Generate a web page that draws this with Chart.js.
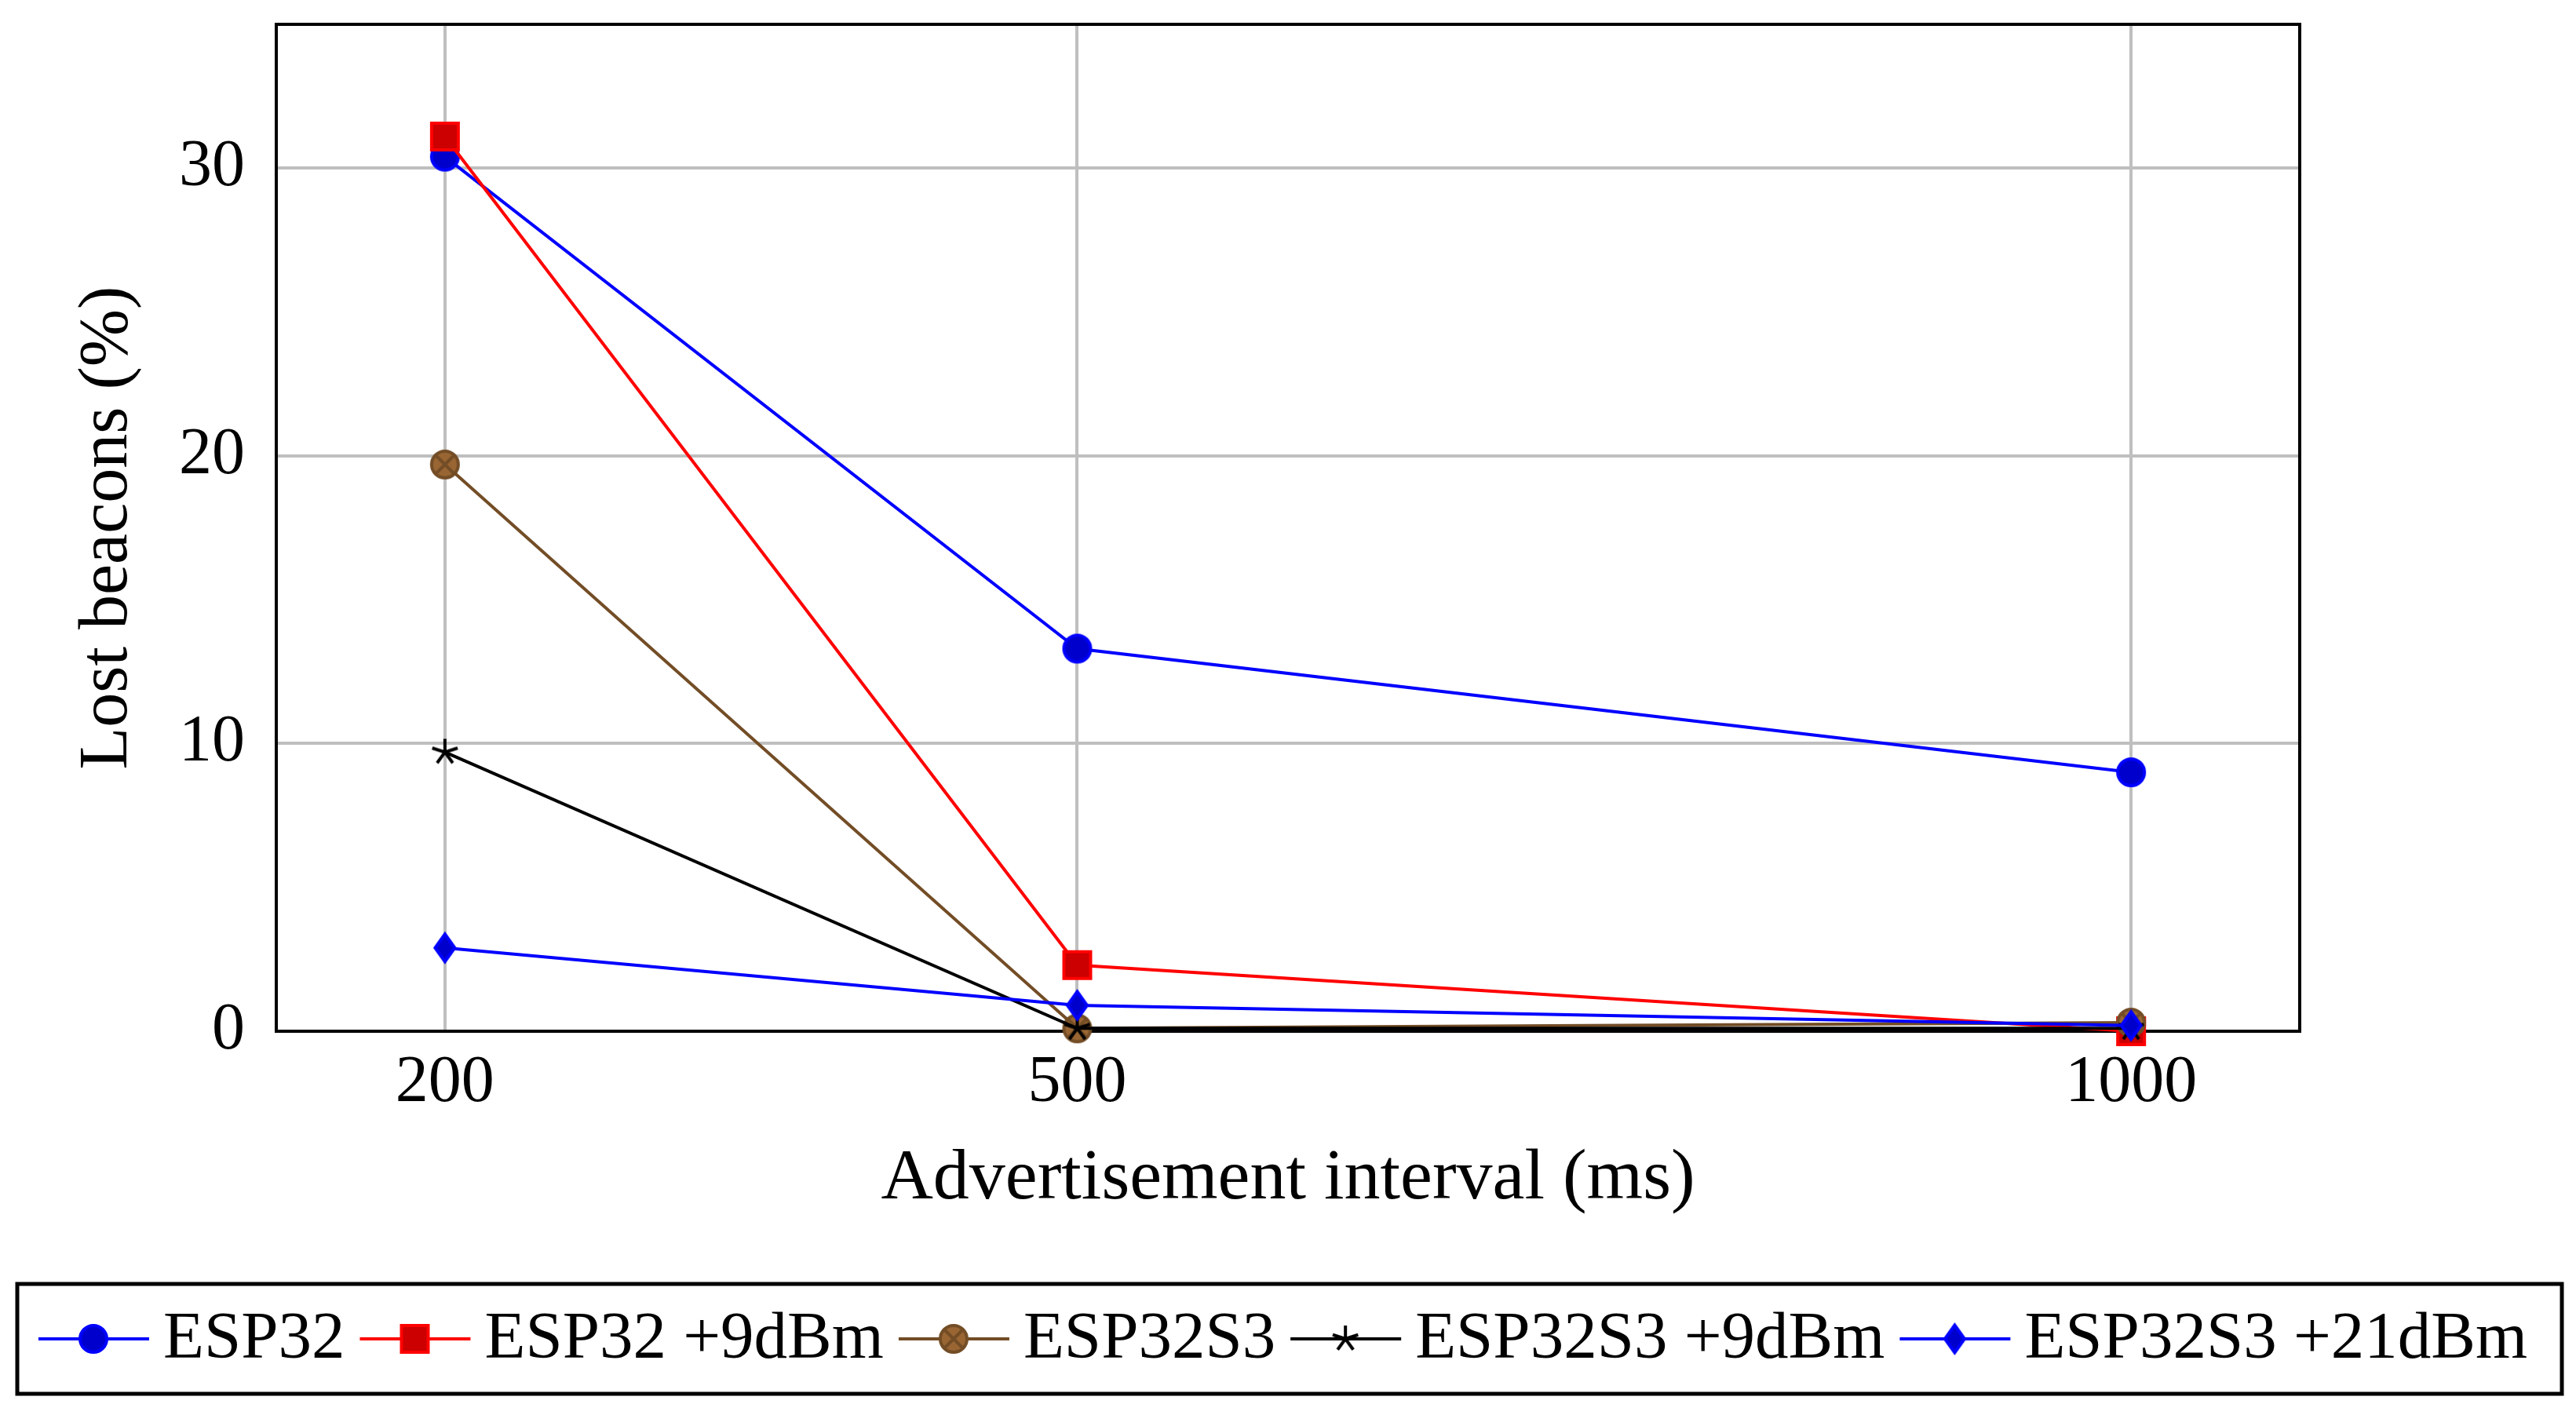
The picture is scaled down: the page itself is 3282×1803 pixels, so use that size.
<!DOCTYPE html>
<html>
<head>
<meta charset="utf-8">
<script src="https://cdn.jsdelivr.net/npm/chart.js@4.4.1/dist/chart.umd.min.js"></script>
<style>
  html, body { margin: 0; padding: 0; background: #fff; }
  #wrap { width: 3282px; height: 1803px; }
</style>
</head>
<body>
<div id="wrap"><canvas id="chart" width="3282" height="1803"></canvas></div>
<script>
// values
const INTERVALS = [200, 500, 1000];
const ESP32 = [30.4, 13.3, 9.0];
const ESP32_9DBM = [31.1, 2.3, 0];
const ESP32S3 = [19.7, 0.1, 0.3];
const ESP32S3_9DBM = [9.7, 0.1, 0.1];
const ESP32S3_21DBM = [2.9, 0.9, 0.2];
const Y_TICKS = [0, 10, 20, 30];

const FONT = '"Liberation Serif", "DejaVu Serif", serif';

function makeMarker(kind, stroke, fill) {
  const s = 60;
  const c = document.createElement('canvas');
  c.width = s; c.height = s;
  const ctx = c.getContext('2d');
  ctx.translate(s / 2, s / 2);
  ctx.lineWidth = 4;
  ctx.strokeStyle = stroke;
  ctx.fillStyle = fill;
  if (kind === 'circle' || kind === 'otimes') {
    ctx.beginPath(); ctx.arc(0, 0, 17, 0, Math.PI * 2); ctx.fill(); ctx.stroke();
    if (kind === 'otimes') {
      const d = 17 * Math.SQRT1_2;
      ctx.beginPath();
      ctx.moveTo(-d, -d); ctx.lineTo(d, d);
      ctx.moveTo(-d, d); ctx.lineTo(d, -d);
      ctx.stroke();
    }
  } else if (kind === 'square') {
    ctx.fillRect(-17, -17, 34, 34); ctx.strokeRect(-17, -17, 34, 34);
  } else if (kind === 'diamond') {
    ctx.beginPath();
    ctx.moveTo(0, -17.5); ctx.lineTo(12.5, 0); ctx.lineTo(0, 17.5); ctx.lineTo(-12.5, 0);
    ctx.closePath(); ctx.fill(); ctx.stroke();
  } else if (kind === 'star') {
    ctx.beginPath();
    for (let i = 0; i < 5; i++) {
      const a = -Math.PI / 2 + i * 2 * Math.PI / 5;
      ctx.moveTo(0, 0); ctx.lineTo(17 * Math.cos(a), 17 * Math.sin(a));
    }
    ctx.stroke();
  }
  return c;
}

const SERIES = [
  { label: 'ESP32',          values: ESP32,         color: '#0000ff', marker: makeMarker('circle', '#0000ff', '#0000cc') },
  { label: 'ESP32 +9dBm',    values: ESP32_9DBM,    color: '#ff0000', marker: makeMarker('square', '#ff0000', '#cc0000') },
  { label: 'ESP32S3',        values: ESP32S3,       color: '#734d26', marker: makeMarker('otimes', '#734d26', '#996633') },
  { label: 'ESP32S3 +9dBm',  values: ESP32S3_9DBM,  color: '#000000', marker: makeMarker('star', '#000000', '#000000') },
  { label: 'ESP32S3 +21dBm', values: ESP32S3_21DBM, color: '#0000ff', marker: makeMarker('diamond', '#0000ff', '#0000cc') },
];

// box around the plot area
const framePlugin = {
  id: 'frame',
  beforeDatasetsDraw(chart) {
    const { ctx, chartArea: a } = chart;
    ctx.save();
    ctx.strokeStyle = '#000';
    ctx.lineWidth = 4;
    ctx.strokeRect(a.left, a.top, a.right - a.left, a.bottom - a.top);
    ctx.restore();
  }
};

// pgfplots-style legend: boxed single row under the axis
const legendPlugin = {
  id: 'boxLegend',
  afterDraw(chart) {
    const ctx = chart.ctx;
    ctx.save();
    ctx.strokeStyle = '#000';
    ctx.lineWidth = 5;
    ctx.strokeRect(22, 1636, 3242, 140);
    ctx.font = '85px ' + FONT;
    ctx.textBaseline = 'middle';
    let x = 49;
    const y = 1706;
    chart.data.datasets.forEach(ds => {
      ctx.strokeStyle = ds.borderColor;
      ctx.lineWidth = 4;
      ctx.beginPath(); ctx.moveTo(x, y); ctx.lineTo(x + 141, y); ctx.stroke();
      ctx.drawImage(ds.pointStyle, x + 70 - 30, y - 30);
      x += 141 + 18;
      ctx.fillStyle = '#000';
      ctx.fillText(ds.label, x, y + 2);
      x += ctx.measureText(ds.label).width + 19;
    });
    ctx.restore();
  }
};

new Chart(document.getElementById('chart').getContext('2d'), {
  type: 'line',
  data: {
    datasets: SERIES.map((s, i) => ({
      label: s.label,
      data: INTERVALS.map((x, j) => ({ x, y: s.values[j] })),
      borderColor: s.color,
      backgroundColor: s.color,
      borderWidth: 4,
      pointStyle: s.marker,
      pointRadius: 17,
      tension: 0,
      fill: false,
      clip: false,
      order: SERIES.length - i,
    }))
  },
  options: {
    responsive: false,
    animation: false,
    devicePixelRatio: 1,
    layout: { padding: { left: 0, top: 31, right: 352, bottom: 229 } },
    plugins: {
      legend: { display: false },
      tooltip: { enabled: false },
    },
    scales: {
      x: {
        type: 'linear',
        min: 120, max: 1080,
        afterBuildTicks: axis => { axis.ticks = INTERVALS.map(v => ({ value: v })); },
        afterFit: axis => { axis.height = 260; axis.paddingLeft = 0; axis.paddingRight = 0; },
        ticks: {
          color: '#000', padding: 17, maxRotation: 0,
          font: { family: FONT, size: 84 },
          callback: v => String(v),
        },
        grid: { color: '#bfbfbf', lineWidth: 4, drawTicks: false },
        border: { display: false },
        title: {
          display: true, text: 'Advertisement interval (ms)', color: '#000',
          font: { family: FONT, size: 92 }, padding: { top: 0, bottom: 16 },
        },
      },
      y: {
        min: 0, max: 35,
        afterBuildTicks: axis => { axis.ticks = Y_TICKS.map(v => ({ value: v })); },
        afterFit: axis => { axis.width = 352; axis.paddingTop = 0; axis.paddingBottom = 0; },
        ticks: {
          color: '#000', padding: 40,
          font: { family: FONT, size: 84 },
        },
        grid: { color: '#bfbfbf', lineWidth: 4, drawTicks: false },
        border: { display: false },
        title: {
          display: true, text: 'Lost beacons (%)', color: '#000',
          font: { family: FONT, size: 88 }, padding: { top: 85, bottom: 0 },
        },
      }
    }
  },
  plugins: [framePlugin, legendPlugin],
});
</script>
</body>
</html>
